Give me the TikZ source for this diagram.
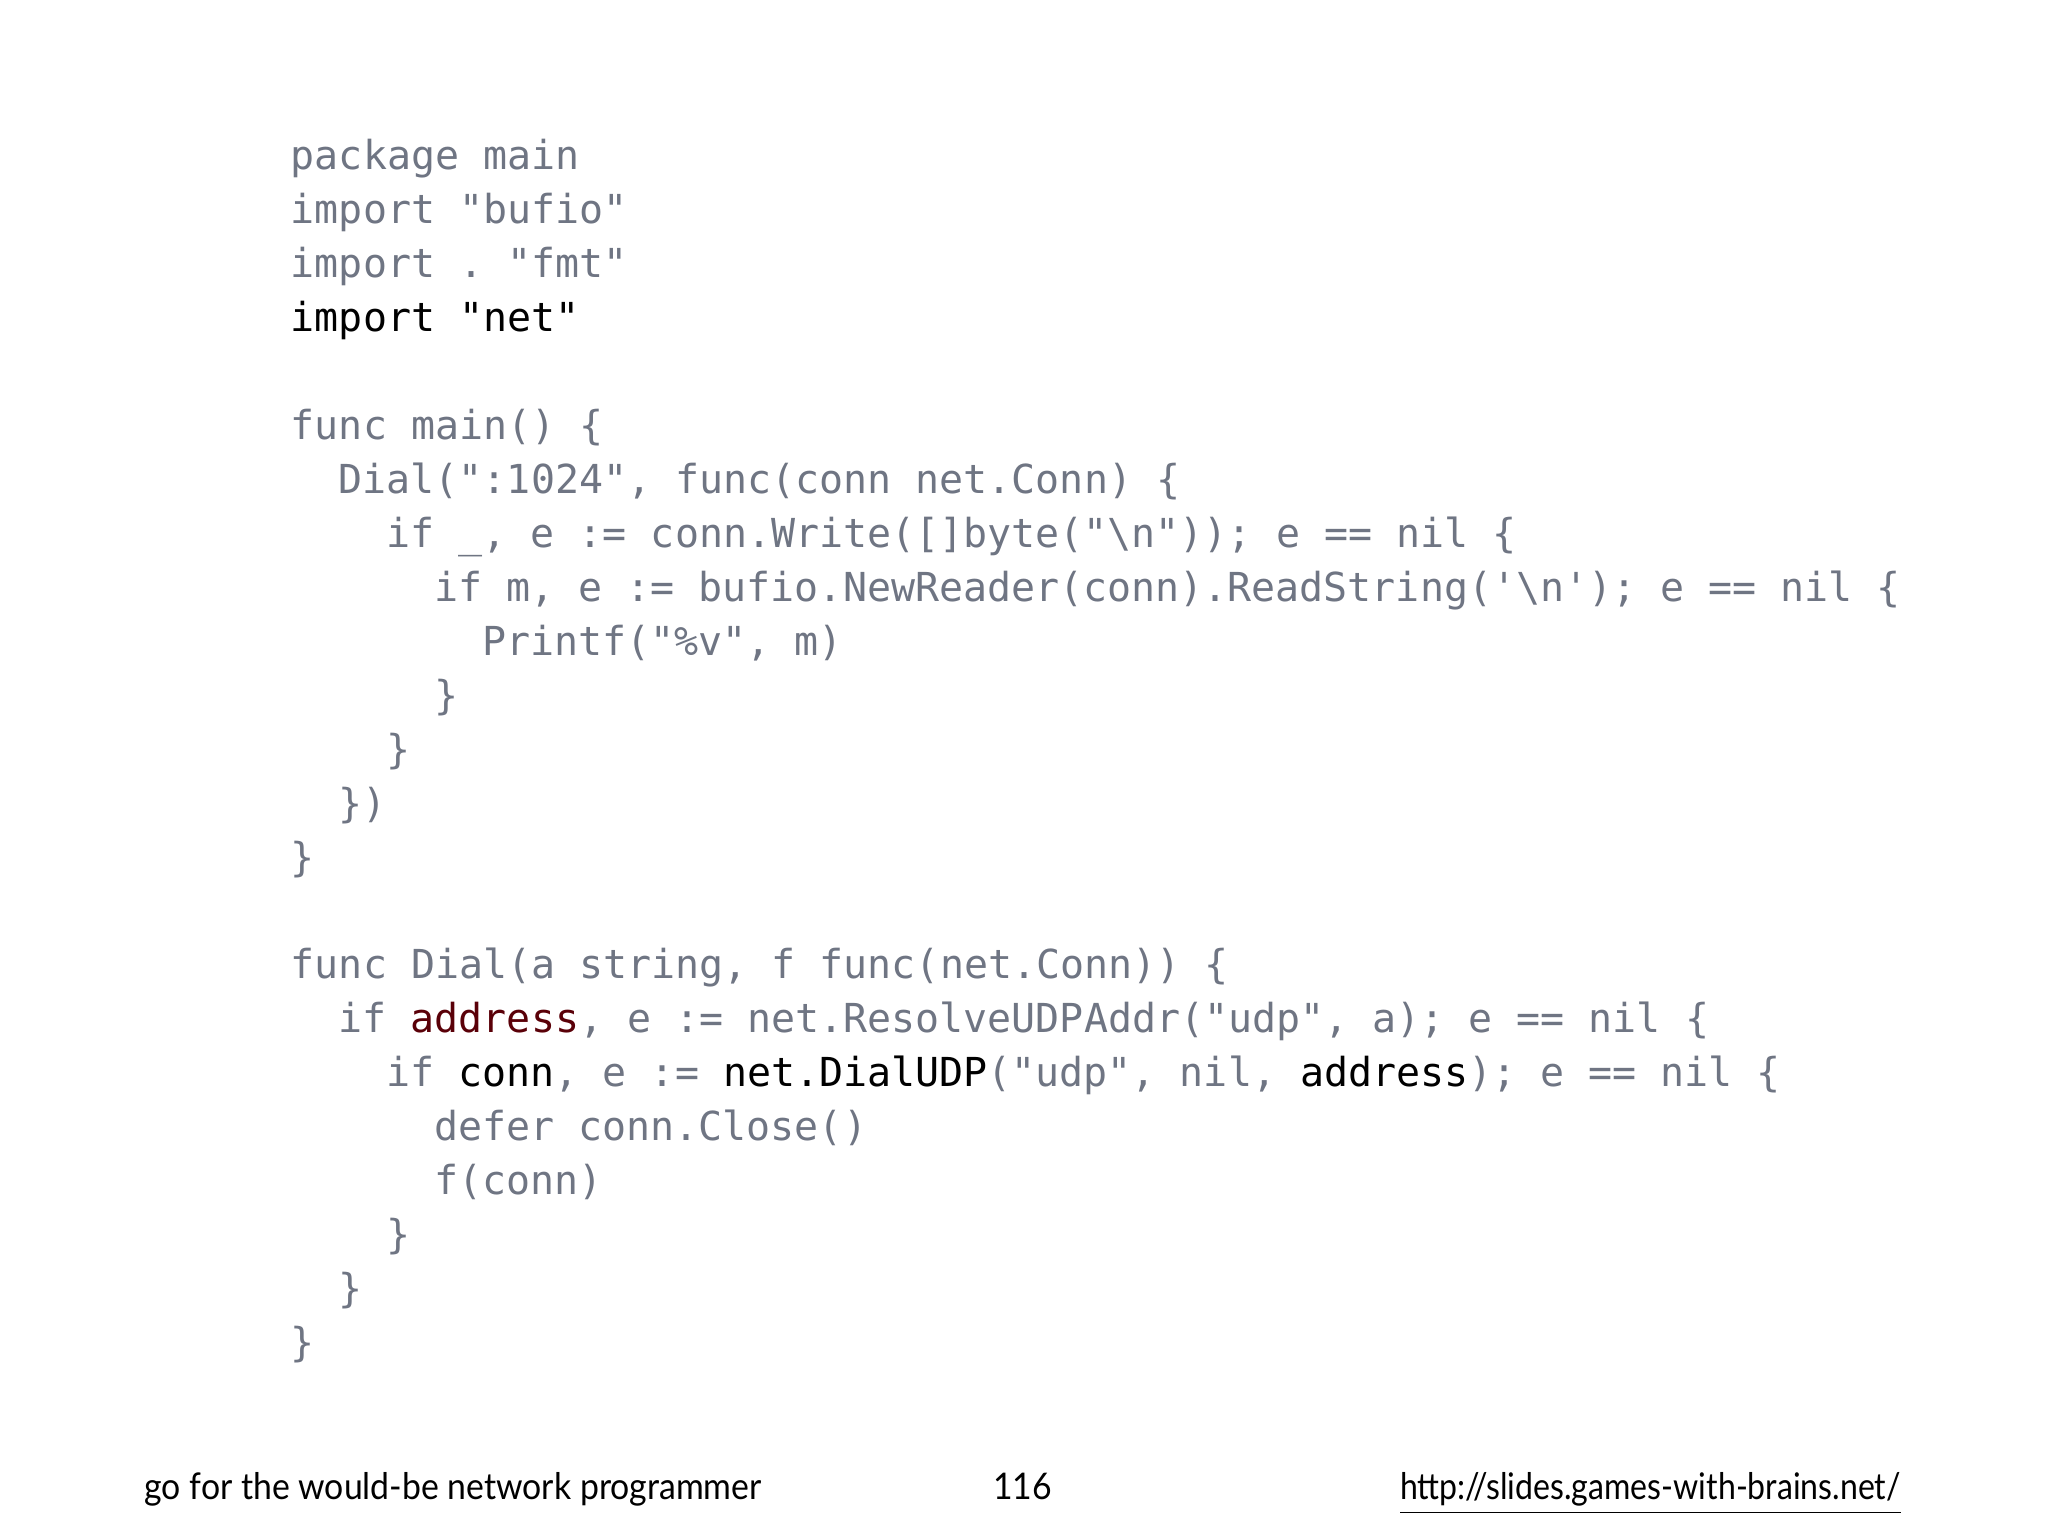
\documentclass[tikz,border=0pt]{standalone}
\usepackage{fontspec}
\usepackage{graphicx}
\setmonofont{DejaVu Sans Mono}
\setsansfont{Lato}
\definecolor{codegray}{HTML}{6F7583}
\definecolor{darkred}{HTML}{5A0008}
\begin{document}
\begin{tikzpicture}[x=1cm,y=1cm,
  code/.style={anchor=base west,inner sep=0pt,text=codegray,font=\ttfamily\fontsize{8.7}{10}\selectfont},
  foot/.style={inner sep=0pt,anchor=base,font=\sffamily\fontsize{8}{10}\selectfont,text=black}]
\useasboundingbox (0,0) rectangle (15.68,-11.76);
\def\b{\textbackslash}
\newcommand{\cl}[4]{\node[code] (#1) at ({2.22+#2*0.183},{-(1.30+(#3-1)*0.413)}) {#4};}
\cl{l1}{0}{1}{package main}
\cl{l2}{0}{2}{import "bufio"}
\cl{l3}{0}{3}{import . "fmt"}
\cl{l4}{0}{4}{\textcolor{black}{import "net"}}
\cl{l6}{0}{6}{func main() \{}
\cl{l7}{2}{7}{Dial(":1024", func(conn net.Conn) \{}
\cl{l8}{4}{8}{if \_, e := conn.Write([]byte("\b n")); e == nil \{}
\cl{l9}{6}{9}{if m, e := bufio.NewReader(conn).ReadString('\b n'); e == nil \{}
\cl{l10}{8}{10}{Printf("\%v", m)}
\cl{l11}{6}{11}{\}}
\cl{l12}{4}{12}{\}}
\cl{l13}{2}{13}{\})}
\cl{l14}{0}{14}{\}}
\cl{l16}{0}{16}{func Dial(a string, f func(net.Conn)) \{}
\cl{l17}{2}{17}{if \textcolor{darkred}{address}, e := net.ResolveUDPAddr("udp", a); e == nil \{}
\cl{l18}{4}{18}{if \textcolor{black}{conn}, e := \textcolor{black}{net.DialUDP}("udp", nil, \textcolor{black}{address}); e == nil \{}
\cl{l19}{6}{19}{defer conn.Close()}
\cl{l20}{6}{20}{f(conn)}
\cl{l21}{4}{21}{\}}
\cl{l22}{2}{22}{\}}
\cl{l23}{0}{23}{\}}
\node[foot,anchor=base west] (f1) at (1.10,-11.48) {\scalebox{0.92}[1]{go for the would-be network programmer}};
\node[foot] (f2) at (7.83,-11.48) {\scalebox{0.92}[1]{116}};
\node[foot,anchor=base east] (f3) at (14.56,-11.48) {\underline{\scalebox{0.873}[1]{http://slides.games-with-brains.net/}}};
\end{tikzpicture}
\end{document}
